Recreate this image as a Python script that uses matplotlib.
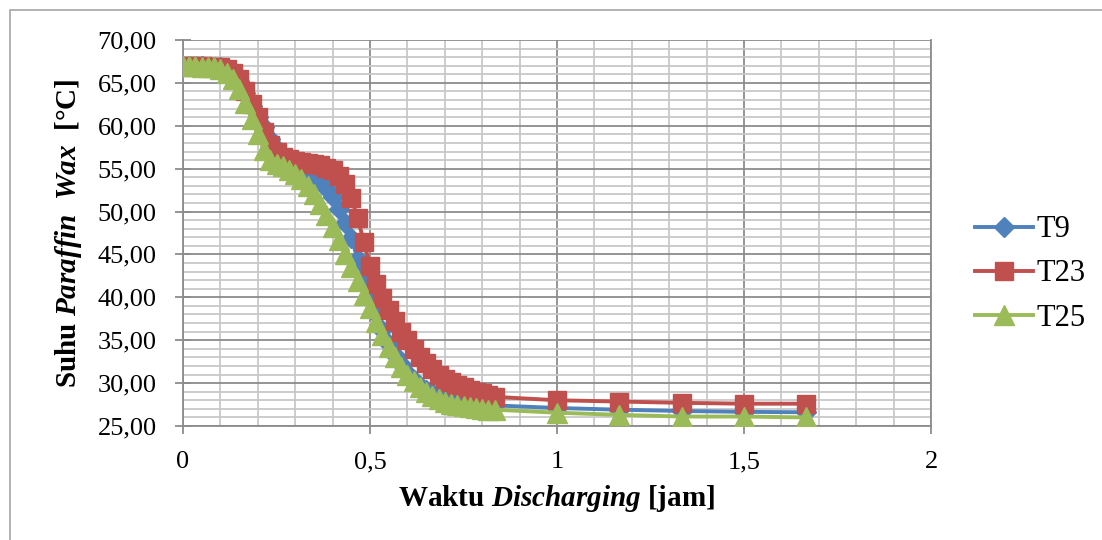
import numpy as np
import matplotlib
matplotlib.use("Agg")
import matplotlib.pyplot as plt
from matplotlib.patches import Rectangle
from matplotlib.ticker import MultipleLocator, FuncFormatter

plt.rcParams['font.family'] = ['Liberation Serif', 'DejaVu Serif']
plt.rcParams['mathtext.fontset'] = 'custom'
plt.rcParams['mathtext.rm'] = 'Liberation Serif'
plt.rcParams['mathtext.it'] = 'Liberation Serif:italic'
plt.rcParams['mathtext.bf'] = 'Liberation Serif:bold'
plt.rcParams['mathtext.bfit'] = 'Liberation Serif:bold:italic'

# waktu dalam menit (dikonversi ke jam)
menit = [0, 1, 2, 3, 4, 5, 6, 7, 8, 9, 10, 11, 12, 13, 14, 15, 16, 17, 18, 19,
         20, 21, 22, 23, 24, 25, 26, 27, 28, 29, 30, 31, 32, 33, 34, 35, 36, 37,
         38, 39, 40, 41, 42, 43, 44, 45, 46, 47, 48, 49, 50, 60, 70, 80, 90, 100]

T9 = [67.0, 67.0, 67.0, 67.0, 66.9, 66.9, 66.8, 66.7, 66.2, 65.2, 63.8, 62.3,
      61.0, 59.8, 58.5, 57.3, 56.4, 55.8, 55.3, 54.9, 54.5, 54.1, 53.6, 52.8,
      51.7, 50.3, 48.7, 46.9, 44.5, 42.0, 39.8, 38.0, 36.2, 34.6, 33.3, 32.2,
      31.2, 30.4, 29.7, 29.2, 28.8, 28.5, 28.2, 28.0, 27.8, 27.7, 27.6, 27.5,
      27.5, 27.4, 27.4, 27.1, 26.9, 26.75, 26.65, 26.6]

T23 = [67.0, 67.0, 67.0, 67.0, 66.9, 66.9, 66.8, 66.6, 66.2, 65.4, 64.0, 62.5,
       61.0, 59.3, 57.8, 56.9, 56.4, 56.1, 55.9, 55.8, 55.7, 55.6, 55.4, 55.1,
       54.8, 54.2, 53.2, 51.6, 49.3, 46.5, 43.6, 41.6, 39.9, 38.5, 37.2, 36.0,
       35.0, 34.0, 33.1, 32.3, 31.6, 31.0, 30.5, 30.1, 29.8, 29.5, 29.2, 29.0,
       28.8, 28.6, 28.4, 28.0, 27.85, 27.7, 27.6, 27.6]

T25 = [67.0, 67.0, 67.0, 66.9, 66.9, 66.8, 66.6, 66.2, 65.5, 64.3, 62.6, 60.8,
       59.0, 57.2, 56.0, 55.6, 55.3, 54.9, 54.4, 53.8, 53.0, 52.0, 50.9, 49.6,
       48.2, 46.7, 45.1, 43.5, 41.9, 40.3, 38.7, 37.1, 35.6, 34.2, 33.0, 31.9,
       31.0, 30.2, 29.5, 29.0, 28.5, 28.1, 27.8, 27.6, 27.4, 27.3, 27.2, 27.1,
       27.0, 26.9, 26.9, 26.55, 26.3, 26.1, 26.1, 26.0]

jam = np.array(menit) / 60.0

fig = plt.figure(figsize=(11.02, 5.40), dpi=100)
ax = fig.add_axes([183/1102, 1 - 426/540, (931 - 183)/1102, (426 - 40)/540])

# garis bingkai luar chart
fig.add_artist(Rectangle((10/1102, -0.1), 1.2, 1.1 - 10/540, transform=fig.transFigure,
                         fill=False, edgecolor='#a6a6a6', linewidth=1.2))

ax.plot(jam, T9, color='#4f81bd', lw=2.8, marker='D', ms=10, mec='#4f81bd',
        label='T9', zorder=3)
ax.plot(jam, T23, color='#c0504d', lw=2.8, marker='s', ms=13.5, mec='#c0504d',
        label='T23', zorder=4)
ax.plot(jam, T25, color='#9bbb59', lw=2.8, marker='^', ms=14.5, mec='#9bbb59',
        label='T25', zorder=5)

ax.set_xlim(0, 2)
ax.set_ylim(25, 70)
ax.xaxis.set_major_locator(MultipleLocator(0.5))
ax.xaxis.set_minor_locator(MultipleLocator(0.1))
ax.yaxis.set_major_locator(MultipleLocator(5))
ax.yaxis.set_minor_locator(MultipleLocator(1))
ax.xaxis.set_major_formatter(FuncFormatter(lambda v, p: ('%g' % v).replace('.', ',')))
ax.yaxis.set_major_formatter(FuncFormatter(lambda v, p: ('%.2f' % v).replace('.', ',')))

ax.grid(True, which='major', color='#8c8c8c', lw=1.3)
ax.grid(True, which='minor', color='#c8c8c8', lw=1.3)
ax.set_axisbelow(True)

ax.spines['top'].set_visible(False)
for s in ['right', 'left', 'bottom']:
    ax.spines[s].set_color('#8c8c8c')
    ax.spines[s].set_linewidth(1.3)

ax.tick_params(axis='y', which='major', direction='inout', length=12, width=1.3,
               color='#8c8c8c', labelsize=19, pad=13)
ax.tick_params(axis='x', which='major', direction='out', length=6, width=1.3,
               color='#8c8c8c', labelsize=19, pad=12)
ax.tick_params(which='minor', length=0)

ax.set_xlabel('Waktu $\\mathbfit{Discharging}$ [jam]', fontsize=21,
              fontweight='bold', labelpad=7)
ax.set_ylabel('Suhu $\\mathbfit{Paraffin\\ \\ Wax}$  [°C]', fontsize=21,
              fontweight='bold', labelpad=10)

ax.legend(loc='center left', bbox_to_anchor=(960/1102, 266/540),
          bbox_transform=fig.transFigure, frameon=False, fontsize=22,
          handlelength=1.9, handletextpad=0.1, labelspacing=0.5, borderpad=0)

fig.savefig('out.png', dpi=100)
